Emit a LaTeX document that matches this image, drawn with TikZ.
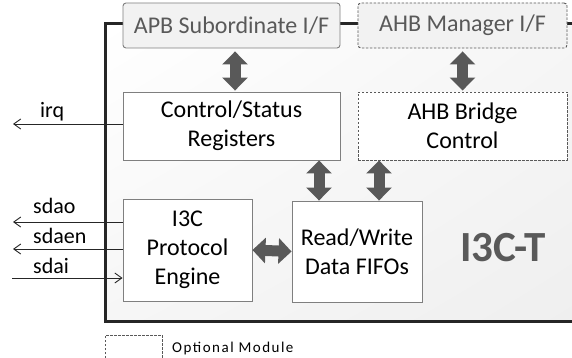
\documentclass[tikz,border=0pt]{standalone}
\usepackage{fontspec}
\setmainfont{Carlito}
\newfontfamily\legfont[LetterSpace=10]{Carlito}
\usetikzlibrary{arrows.meta,calc,shadings}
\definecolor{dgrey}{HTML}{595959}
\definecolor{bgrey}{HTML}{7F7F7F}
\definecolor{fgrey}{HTML}{F2F2F2}
\definecolor{lineblk}{HTML}{262626}
\definecolor{shadeA}{HTML}{FFFFFF}
\definecolor{shadeB}{HTML}{F6F6F6}
\definecolor{shadeC}{HTML}{EFEFEF}
\begin{document}
\begin{tikzpicture}[x=1pt,y=-1pt,
  box/.style={draw=bgrey, line width=0.9pt, fill=white, inner sep=0pt, align=center,
    font=\fontsize{24}{29}\selectfont},
  optbox/.style={box, draw=dgrey, dash pattern=on 2.5pt off 1.5pt},
  ifbox/.style={box, fill=fgrey, rounded corners=3pt, text=dgrey},
  bus/.style={draw=dgrey, line width=11pt,
    {Triangle[length=13pt,width=25pt]}-{Triangle[length=13pt,width=25pt]}},
  sig/.style={draw=lineblk, line width=0.9pt},
  sigtip/.style={-{Straight Barb[length=7pt,width=10pt,line width=0.9pt]}},
  siglabel/.style={anchor=base west, inner sep=0pt, font=\fontsize{22}{26}\selectfont},
]
\useasboundingbox (0,0) rectangle (572,358);
\clip (0,0) rectangle (572,358);
\fill[white] (0,0) rectangle (572,358);

% outer I3C-T block
\shade[upper left=shadeA, upper right=shadeB, lower left=shadeB, lower right=shadeC]
  (105,24) rectangle (580,321);
\draw[draw=lineblk, line width=3pt] (580,24) -- (105,24) -- (105,321) -- (580,321);

% interface boxes
\node[ifbox, minimum width=217pt, minimum height=45pt] (apb) at (231.5,25.5) {APB Subordinate I/F};
\node[ifbox, dash pattern=on 2.5pt off 1.5pt, draw=dgrey, minimum width=209pt, minimum height=45pt] (ahb) at (462.5,25.5) {AHB Manager I/F};

% inner blocks
\node[box, minimum width=217pt, minimum height=68pt] (csr) at (231.5,126) {Control/Status\\Registers};
\node[optbox, minimum width=209pt, minimum height=68pt] (bridge) at (462.5,126) {AHB Bridge\\Control};
\node[box, minimum width=129pt, minimum height=102pt] (engine) at (187.5,250) {I3C\\Protocol\\Engine};
\node[box, minimum width=130pt, minimum height=101pt] (fifo) at (357,251.5) {Read/Write\\Data FIFOs};

\node[text=dgrey, font=\fontsize{43}{50}\selectfont\bfseries] (title) at (503,248) {I3C-T};

% bus arrows
\draw[bus] ([xshift=3.5pt,yshift=-3pt]apb.south) -- ([xshift=3.5pt,yshift=1pt]csr.north);
\draw[bus] ([yshift=-3pt]ahb.south) -- ([yshift=1pt]bridge.north);
\draw[bus] ([xshift=-38pt]csr.south -| fifo.north) -- ([xshift=-38pt]fifo.north);
\draw[bus] ([xshift=22pt]csr.south -| fifo.north) -- ([xshift=22pt]fifo.north);
\draw[bus] (engine.east) -- (fifo.west);

% signals
\coordinate (irqE) at (13,124);
\coordinate (sdaoE) at (13,222);
\coordinate (sdaenE) at (13,249);
\coordinate (sdaiS) at (12,278);
\draw[sig, sigtip] (irqE -| csr.west) -- (irqE);
\draw[sig, sigtip] (sdaoE -| engine.west) -- (sdaoE);
\draw[sig, sigtip] (sdaenE -| engine.west) -- (sdaenE);
\draw[sig, sigtip] (sdaiS) -- (sdaiS -| engine.west);

\node[siglabel] (lirq) at (40,118) {irq};
\node[siglabel] (lsdao) at (33,213) {sdao};
\node[siglabel] (lsdaen) at (33,243) {sdaen};
\node[siglabel] (lsdai) at (33,273) {sdai};

% legend
\draw[draw=dgrey, line width=0.8pt, dash pattern=on 2.5pt off 1.5pt] (105,370) -- (105,335) -- (162,335) -- (162,370);
\node[anchor=base west, inner sep=0pt, font=\legfont\fontsize{15}{18}\selectfont] (legend) at (172,352) {Optional Module};
\end{tikzpicture}
\end{document}
